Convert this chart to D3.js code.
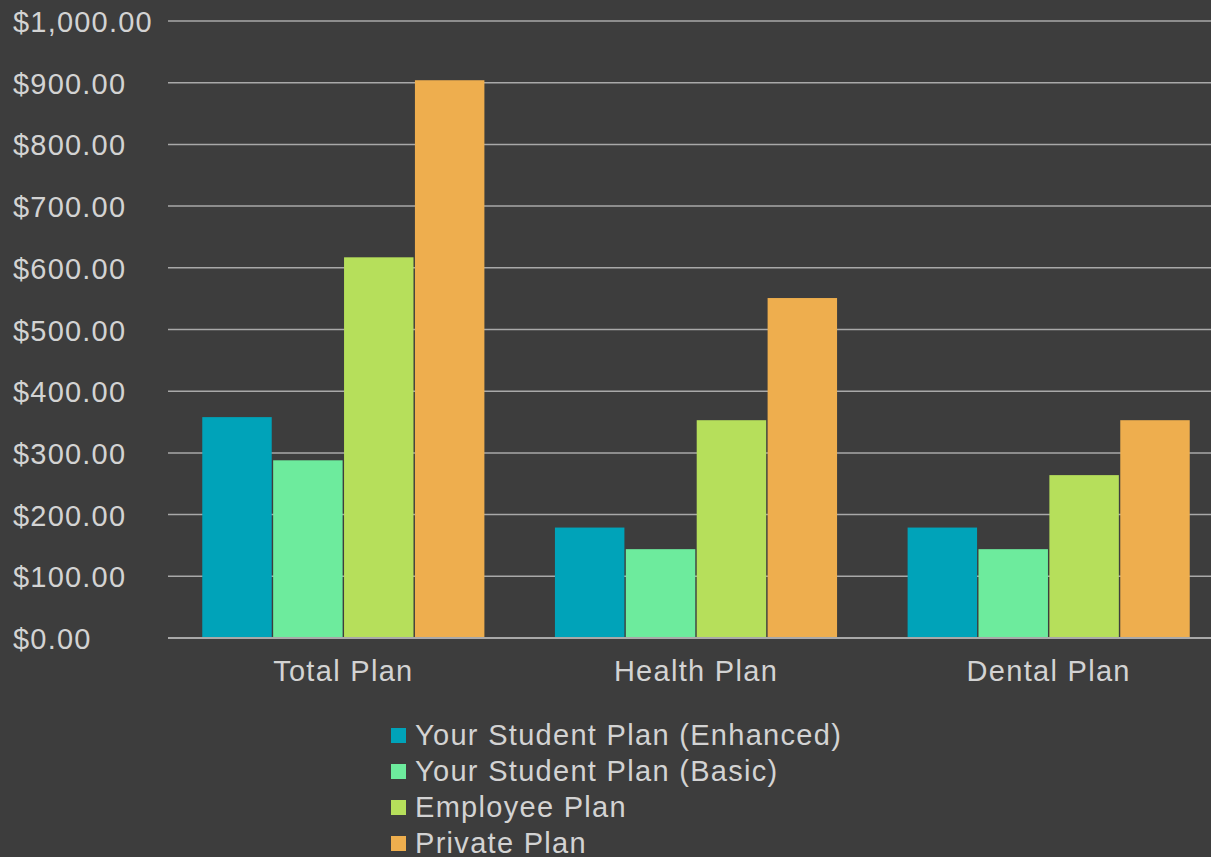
<!DOCTYPE html>
<html>
<head>
<meta charset="utf-8">
<script src="https://cdn.jsdelivr.net/npm/d3@7"></script>
<style>
  html, body { margin: 0; padding: 0; background: #3d3d3d; }
  svg { display: block; }
  text { font-family: "Liberation Sans", Arial, sans-serif; fill: #d3d3d3; }
</style>
</head>
<body>
<svg width="1211" height="857"></svg>
<script>
// categories and series
var categories = ["Total Plan", "Health Plan", "Dental Plan"];
var series = ["Your Student Plan (Enhanced)", "Your Student Plan (Basic)", "Employee Plan", "Private Plan"];
var colors = ["#00a3b9", "#6deb9d", "#b6df5b", "#eeae4e"];

// values per series, in category order
var enhanced = [358, 179, 179];
var basic = [288, 144, 144];
var employee = [617, 353, 264];
var privatePlan = [904, 551, 353];
var yTicks = [0, 100, 200, 300, 400, 500, 600, 700, 800, 900, 1000];

var values = [enhanced, basic, employee, privatePlan];
var data = [];
categories.forEach(function(c, i) {
	series.forEach(function(s, j) {
		data.push({cat: c, series: s, value: values[j][i]});
	});
});

var svg = d3.select("svg");

var xScale = d3.scaleBand()
	.domain(categories)
	.range([167, 1225])
	.paddingInner(0.2)
	.paddingOuter(0.1);

var x1 = d3.scaleBand()
	.domain(series)
	.range([0, xScale.bandwidth()])
	.paddingInner(0.02);

var yScale = d3.scaleLinear()
	.domain([0, 1000])
	.range([638, 21]);

var colorScale = d3.scaleOrdinal().domain(series).range(colors);
var fmt = d3.format("$,.2f");

// grid lines
svg.append("g")
	.selectAll("line")
	.data(yTicks)
	.enter()
	.append("line")
	.attr("x1", 168)
	.attr("x2", 1211)
	.attr("y1", function(d) { return yScale(d); })
	.attr("y2", function(d) { return yScale(d); })
	.attr("stroke", "#a9a9a9")
	.attr("stroke-width", 1.5);

// y labels
svg.append("g")
	.selectAll("text")
	.data(yTicks)
	.enter()
	.append("text")
	.attr("x", 13)
	.attr("y", function(d) { return yScale(d) + 11; })
	.style("font-size", "29px")
	.style("letter-spacing", "1.2px")
	.text(function(d) { return fmt(d); });

// bars
svg.append("g")
	.selectAll("rect")
	.data(data)
	.enter()
	.append("rect")
	.attr("x", function(d) { return xScale(d.cat) + x1(d.series); })
	.attr("y", function(d) { return yScale(d.value); })
	.attr("width", x1.bandwidth())
	.attr("height", function(d) { return yScale(0) - yScale(d.value); })
	.attr("fill", function(d) { return colorScale(d.series); });

// baseline
svg.append("line")
	.attr("x1", 168).attr("x2", 1211)
	.attr("y1", yScale(0)).attr("y2", yScale(0))
	.attr("stroke", "#a9a9a9")
	.attr("stroke-width", 2);

// category labels
svg.append("g")
	.selectAll("text")
	.data(categories)
	.enter()
	.append("text")
	.attr("x", function(d) { return xScale(d) + xScale.bandwidth() / 2; })
	.attr("y", 681)
	.attr("text-anchor", "middle")
	.style("font-size", "29px")
	.style("letter-spacing", "1.3px")
	.text(function(d) { return d; });

// legend
var legend = svg.append("g")
	.selectAll("g")
	.data(series)
	.enter()
	.append("g")
	.attr("transform", function(d, i) { return "translate(391," + (728 + i * 36) + ")"; });

legend.append("rect")
	.attr("width", 15)
	.attr("height", 15)
	.attr("fill", function(d) { return colorScale(d); });

legend.append("text")
	.attr("x", 24)
	.attr("y", 17)
	.style("font-size", "29px")
	.style("letter-spacing", "1.3px")
	.text(function(d) { return d; });
</script>
</body>
</html>
